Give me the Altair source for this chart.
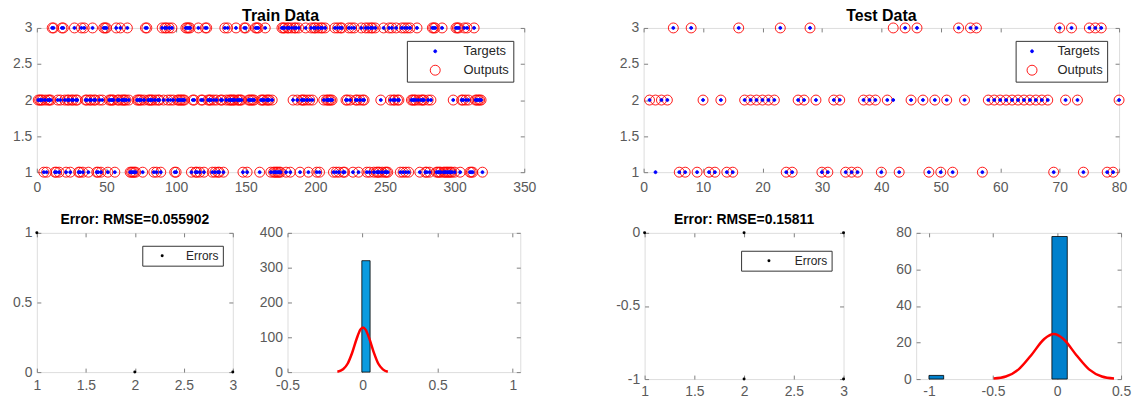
import altair as alt
import pandas as pd

FONT = "Liberation Sans"
BOX = "#7f7f7f"
LBLC = "#5a5a5a"
DOT = "M -0.3 0 A 0.3 0.3 0 1 0 0.3 0 A 0.3 0.3 0 1 0 -0.3 0 Z"

# ---------------- data ----------------
train_n = 320
train_idx_level3 = [11, 12, 18, 19, 27, 32, 34, 40, 48, 49, 50, 57, 60, 65, 78, 79, 90, 92, 93, 95, 97,
                    107, 108, 109, 110, 116, 121, 122, 135, 137, 143, 149, 150, 157, 158, 159, 164,
                    176, 177, 178, 180, 181, 183, 185, 186, 188, 193, 197, 199, 200, 202, 204, 205, 207,
                    214, 216, 218, 219, 224, 226, 228, 233, 236, 238, 240, 241, 243, 249, 253, 255, 258,
                    262, 264, 266, 268, 273, 284, 285, 286, 291, 301, 302, 303, 307, 309, 314]
train_idx_level1 = [5, 7, 13, 14, 16, 21, 24, 30, 31, 33, 37, 43, 44, 46, 51, 56, 67, 68, 69, 70, 71, 76,
                    84, 86, 89, 99, 100, 111, 114, 115, 117, 120, 126, 128, 130, 131, 134, 148, 151, 160,
                    168, 170, 171, 172, 173, 174, 175, 179, 182, 189, 195, 201, 203, 213, 215, 217, 220,
                    221, 227, 231, 237, 239, 242, 244, 245, 246, 248, 250, 251, 252, 261, 263, 265, 267,
                    275, 279, 280, 282, 287, 288, 289, 290, 292, 293, 294, 295, 296, 297, 298, 300, 304,
                    311, 312, 313, 320]

test_targets = [2, 1, 2, 2, 3, 1, 1, 3, 1, 2, 1, 1, 2, 1, 1, 3, 2, 2, 2, 2,
                2, 2, 3, 1, 1, 2, 2, 3, 2, 1, 1, 2, 2, 1, 1, 1, 2, 2, 2, 1,
                2, 2, 1, 3, 2, 3, 2, 1, 2, 1, 2, 1, 3, 2, 3, 3, 1, 2, 2, 2,
                2, 2, 2, 2, 2, 2, 2, 2, 1, 3, 2, 3, 2, 1, 3, 3, 3, 1, 1, 2]
test_outputs = [2, 2, 2, 2, 3, 1, 1, 3, 1, 2, 1, 1, 2, 1, 1, 3, 2, 2, 2, 2,
                2, 2, 3, 1, 1, 2, 2, 3, 2, 1, 1, 2, 2, 1, 1, 1, 2, 2, 2, 1,
                2, 3, 1, 3, 2, 3, 2, 1, 2, 1, 2, 1, 3, 2, 3, 3, 1, 2, 2, 2,
                2, 2, 2, 2, 2, 2, 2, 2, 1, 3, 2, 3, 2, 1, 3, 3, 3, 1, 1, 2]

train_err_x = [1, 2, 3]
train_err_y = [1, 0, 0]
test_err_x = [1, 2, 3, 2, 3]
test_err_y = [0, 0, 0, -1, -1]

train_hist_lo = [-0.005]
train_hist_hi = [0.05]
train_hist_count = [320]
train_fit_x = [-0.168, -0.13, -0.1, -0.07, -0.04, -0.015, 0.003, 0.02, 0.045, 0.075, 0.105, 0.135, 0.168]
train_fit_y = [1, 8, 24, 55, 95, 122, 128, 122, 96, 56, 24, 8, 1]

test_hist_lo = [-1.0, -0.04]
test_hist_hi = [-0.885, 0.08]
test_hist_count = [2, 78]
test_fit_x = [-0.495, -0.4, -0.3, -0.2, -0.1, -0.025, 0.05, 0.15, 0.25, 0.35, 0.445]
test_fit_y = [0.3, 1.4, 5.3, 13.2, 21.9, 24.6, 21.9, 13.2, 5.3, 1.4, 0.3]

train_title = "Train Data"
test_title = "Test Data"
train_err_title = "Error: RMSE=0.055902"
test_err_title = "Error: RMSE=0.15811"

# ---------------- build train targets ----------------
train_targets = [2] * train_n
for i in train_idx_level1:
    train_targets[i - 1] = 1
for i in train_idx_level3:
    train_targets[i - 1] = 3
train_outputs = list(train_targets)

LABEL_EXPR = "replace(datum.label, '\u2212', '-')"


def ax(orient, values, xpad=8):
    pad = xpad if orient == "bottom" else 5
    return alt.Axis(orient=orient, values=values, format=".1~f",
                    labelExpr=LABEL_EXPR, domain=False, grid=False, ticks=True, tickSize=4,
                    tickColor=BOX, tickWidth=1, offset=-4, labelPadding=pad,
                    labelFont=FONT, labelFontSize=14, labelColor=LBLC,
                    labelFlush=False, labelOverlap=False, title=None)


def ghost_ax(orient, values):
    return alt.Axis(orient=orient, values=values, labels=False, domain=False, grid=False,
                    ticks=True, tickSize=4, tickColor=BOX, tickWidth=1, offset=-4,
                    labelPadding=0, minExtent=0, maxExtent=0, title=None)


def boxed(layers, ghost_df, xf, yf, xs, ys, xvals, yvals, w, h, title=None, tsize=14, toff=-1):
    ghost = alt.Chart(ghost_df).mark_point(opacity=0, size=1).encode(
        x=alt.X(f"{xf}:Q", scale=xs, axis=ghost_ax("top", xvals)),
        y=alt.Y(f"{yf}:Q", scale=ys, axis=ghost_ax("right", yvals)),
    )
    ch = alt.layer(*layers, ghost).resolve_axis(x="independent", y="independent")
    props = dict(width=w, height=h)
    if title:
        props["title"] = alt.Title(title, fontSize=tsize, fontWeight="bold", font=FONT,
                                   color="#000000", anchor="middle", offset=toff)
    return ch.properties(**props)


def top_panel(targets, outputs, xmax, xvals, w, h, title, lx, ly, soff, loff):
    n = len(targets)
    idx = list(range(1, n + 1))
    df = pd.DataFrame({"i": idx + idx, "v": outputs + targets,
                       "series": ["Outputs"] * n + ["Targets"] * n})
    dom = ["Targets", "Outputs"]
    leg = alt.Legend(orient="none", legendX=lx, legendY=ly, title=None,
                     fillColor="white", strokeColor="#333333", padding=4,
                     symbolOffset=soff, labelOffset=loff, rowPadding=4,
                     symbolSize=100, symbolStrokeWidth=0.9,
                     labelFont=FONT, labelFontSize=13, labelColor="#262626")
    xs = alt.Scale(domain=[0, xmax], nice=False, zero=False)
    ys = alt.Scale(domain=[1, 3], nice=False, zero=False)
    yvals = [1, 1.5, 2, 2.5, 3]
    pts = alt.Chart(df).mark_point(size=100, strokeWidth=0.9, opacity=1).encode(
        x=alt.X("i:Q", scale=xs, axis=ax("bottom", xvals, 8)),
        y=alt.Y("v:Q", scale=ys, axis=ax("left", yvals)),
        color=alt.Color("series:N", scale=alt.Scale(domain=dom, range=["#0000ff", "#ff0000"]), legend=leg),
        fill=alt.Fill("series:N", scale=alt.Scale(domain=dom, range=["#0000ff", "transparent"]), legend=leg),
        shape=alt.Shape("series:N", scale=alt.Scale(domain=dom, range=[DOT, "circle"]), legend=leg),
    )
    return boxed([pts], df, "i", "v", xs, ys, xvals, yvals, w, h, title, 16, -3)


def err_panel(ex, ey, ydom, yvals, w, h, title, lx, ly, soff, loff):
    df = pd.DataFrame({"x": ex, "y": ey, "series": ["Errors"] * len(ex)})
    leg = alt.Legend(orient="none", legendX=lx, legendY=ly, title=None,
                     fillColor="white", strokeColor="#333333", padding=4,
                     symbolOffset=soff, labelOffset=loff, symbolSize=9,
                     labelFont=FONT, labelFontSize=12, labelColor="#262626")
    xs = alt.Scale(domain=[1, 3], nice=False, zero=False)
    ys = alt.Scale(domain=ydom, nice=False, zero=False)
    xvals = [1, 1.5, 2, 2.5, 3]
    pts = alt.Chart(df).mark_point(filled=True, size=9, shape="circle", opacity=1).encode(
        x=alt.X("x:Q", scale=xs, axis=ax("bottom", xvals, 6)),
        y=alt.Y("y:Q", scale=ys, axis=ax("left", yvals)),
        color=alt.Color("series:N", scale=alt.Scale(domain=["Errors"], range=["#000000"]), legend=leg),
    )
    return boxed([pts], df, "x", "y", xs, ys, xvals, yvals, w, h, title, 14, -1)


def hist_panel(lo, hi, cnt, fx, fy, xdom, xvals, ydom, yvals, w, h, barcolor):
    hdf = pd.DataFrame({"lo": lo, "hi": hi, "count": cnt, "zero": [0] * len(lo)})
    cdf = pd.DataFrame({"x": fx, "y": fy})
    xs = alt.Scale(domain=xdom, nice=False, zero=False)
    ys = alt.Scale(domain=ydom, nice=False, zero=False)
    bars = alt.Chart(hdf).mark_rect(fill=barcolor, stroke="#000000", strokeWidth=0.8).encode(
        x=alt.X("lo:Q", scale=xs, axis=ax("bottom", xvals, 6)),
        x2="hi:Q",
        y=alt.Y("count:Q", scale=ys, axis=ax("left", yvals)),
        y2="zero:Q",
    )
    curve = alt.Chart(cdf).mark_line(color="#ff0000", strokeWidth=2.5, interpolate="monotone").encode(
        x=alt.X("x:Q", scale=xs, axis=None),
        y=alt.Y("y:Q", scale=ys, axis=None),
    )
    return boxed([bars, curve], cdf, "x", "y", xs, ys, xvals, yvals, w, h)


def spacer(w):
    return alt.Chart(pd.DataFrame({"s": [0]})).mark_point(opacity=0, size=1).encode(
        x=alt.X("s:Q", axis=None), y=alt.Y("s:Q", axis=None)
    ).properties(width=w, height=1, view=alt.ViewBackground(stroke="transparent"))


def indep(c):
    return c.resolve_scale(color="independent", fill="independent", shape="independent").resolve_legend(
        color="independent", fill="independent", shape="independent")


top_train = top_panel(train_targets, train_outputs, 350, list(range(0, 351, 50)), 490, 145,
                      train_title, 372, 13, 18, 22)
top_test = top_panel(test_targets, test_outputs, 80, list(range(0, 81, 10)), 478, 145,
                     test_title, 374, 13, 6, 19)
err_train = err_panel(train_err_x, train_err_y, [0, 1], [0, 0.5, 1], 197, 140, train_err_title,
                      106, 13, 10, 18)
err_test = err_panel(test_err_x, test_err_y, [-1, 0], [-1, -0.5, 0], 200, 147, test_err_title,
                     97, 18, 18, 20)
hist_train = hist_panel(train_hist_lo, train_hist_hi, train_hist_count, train_fit_x, train_fit_y,
                        [-0.5, 1.05], [-0.5, 0, 0.5, 1], [0, 400], [0, 100, 200, 300, 400],
                        234, 140, "#0a9be0")
hist_test = hist_panel(test_hist_lo, test_hist_hi, test_hist_count, test_fit_x, test_fit_y,
                       [-1.1, 0.5], [-1, -0.5, 0, 0.5], [0, 80], [0, 20, 40, 60, 80],
                       206, 147, "#0080cc")

GAP = 27
top_row = indep(alt.hconcat(top_train, top_test, spacing=120, bounds="flush"))
bottom_row = indep(alt.HConcatChart(
    hconcat=[err_train, spacer(1), hist_train, spacer(71), err_test, spacer(19), hist_test],
    spacing=GAP, bounds="flush"))
chart = indep(alt.vconcat(top_row, bottom_row, spacing=17)).properties(
    padding={"left": 4, "top": -2, "right": 0, "bottom": 0}
).configure_view(stroke=BOX, strokeWidth=1).configure(background="white")

chart.save("out.html", embed_options={"renderer": "svg", "actions": False})
